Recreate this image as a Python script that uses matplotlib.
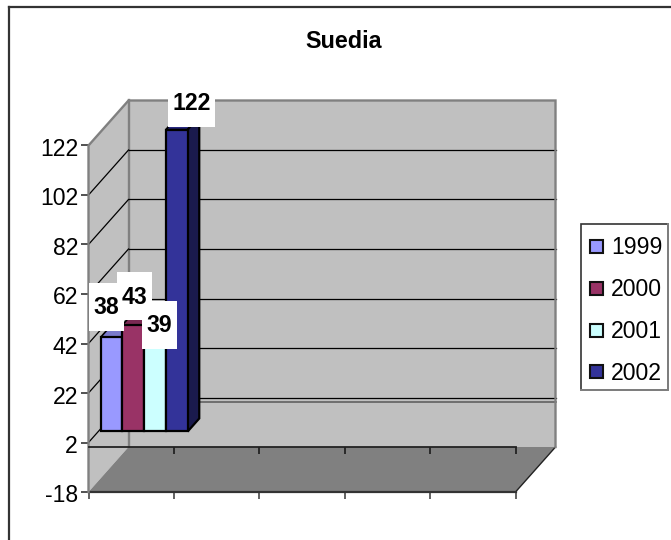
import matplotlib
matplotlib.use("Agg")
import matplotlib.pyplot as plt
from matplotlib.patches import Polygon, Rectangle
from matplotlib.transforms import ScaledTranslation

plt.rcParams['font.family'] = ['Liberation Sans', 'DejaVu Sans']

title = "Suedia"
years = ["1999", "2000", "2001", "2002"]
values = [38, 43, 39, 122]
value_ticks = [-18, 2, 22, 42, 62, 82, 102, 122]
category_ticks = [0, 1, 2, 3, 4, 5]

face_colors = ["#9999FF", "#993366", "#CCFFFF", "#333399"]
top_colors = ["#7A7ACC", "#7A2952", "#A3CCCC", "#292980"]
side_colors = ["#4D4D80", "#4D1A33", "#668080", "#1A1A4D"]

W, H = 671, 540
fig = plt.figure(figsize=(W / 100, H / 100), dpi=100, facecolor="white")
LEFT, RIGHT, TOP, BOTTOM = 88.5, 515.5, 145.5, 492.0
ax = fig.add_axes([LEFT / W, 1 - BOTTOM / H, (RIGHT - LEFT) / W, (BOTTOM - TOP) / H])
ax.set_xlim(0, 5)
ax.set_ylim(-18, 122)
px_x = (RIGHT - LEFT) / 5
px_y = (BOTTOM - TOP) / 140
DEPTH_X = 40 / px_x
DEPTH_Y = 45 / px_y
FONT = 16.6


def deep(x, y, d=1.0):
    """Project a point of the front plane back to depth d (0 front, 1 back wall)."""
    return (x + d * DEPTH_X, y + d * DEPTH_Y)


GREY = "#808080"
WALL = "#C0C0C0"
# Walls and floor of the oblique box
ax.add_patch(Polygon([(0, -18), (0, 122), deep(0, 122), deep(0, -18)],
                     closed=True, fc=WALL, ec="none", clip_on=False, zorder=1))
ax.add_patch(Polygon([deep(0, -18), deep(0, 122), deep(5, 122), deep(5, -18)],
                     closed=True, fc=WALL, ec="none", clip_on=False, zorder=1))
ax.plot(*zip((0, -18), (0, 122), deep(0, 122), deep(5, 122), deep(5, -18)),
        color=GREY, lw=1.7, clip_on=False, zorder=4, solid_joinstyle="miter")
ax.plot(*zip(deep(0, 122), deep(0, -18)), color=GREY, lw=1.7, clip_on=False, zorder=2)

# Gridlines along the left wall and the back wall
for v in value_ticks[1:-1]:
    ax.plot(*zip((0, v), deep(0, v)), color="black", lw=0.9, clip_on=False, zorder=2)
    ax.plot(*zip(deep(0, v), deep(5, v)), color="black", lw=0.9, clip_on=False, zorder=2)
ax.plot(*zip(deep(0, 0), deep(5, 0)), color="#606060", lw=1.2, clip_on=False, zorder=2)

ax.add_patch(Polygon([(0, -18), deep(0, -18), deep(5, -18), (5, -18)],
                     closed=True, fc=GREY, ec="none", clip_on=False, zorder=2))
ax.plot(*zip((5, -18), deep(5, -18)), color="#222222", lw=1.0, clip_on=False, zorder=3)
ax.plot([0, 5], [-18, -18], color="#333333", lw=1.6, clip_on=False, zorder=3)

# Category axis at zero, with its own ticks
ax.plot([0, 5], [0, 0], color="#222222", lw=1.3, clip_on=False, zorder=5)
ax.vlines(category_ticks[1:], -2.6, 0, color="#222222", lw=1.3, clip_on=False, zorder=5)

# Clustered bars standing inside the depth of the box
D0, D1 = 0.355, 0.644
BAR_W = 21.8 / px_x
BAR_START = (100.5 - LEFT) / px_x - D0 * DEPTH_X
base = D0 * DEPTH_Y
for i, (val, fc, tc, sc) in enumerate(zip(values, face_colors, top_colors, side_colors)):
    x0 = BAR_START + i * BAR_W
    z = 6 + i
    lefts = x0 + D0 * DEPTH_X
    ax.bar(lefts, val, width=BAR_W, bottom=base, align="edge", color=fc,
           edgecolor="black", linewidth=1.6, clip_on=False, zorder=z + 0.5)
    top = [deep(x0, val, D0), deep(x0 + BAR_W, val, D0),
           deep(x0 + BAR_W, val, D1), deep(x0, val, D1)]
    ax.add_patch(Polygon(top, closed=True, fc=tc, ec="black", lw=1.2, clip_on=False, zorder=z))
    if i == len(values) - 1:
        side = [deep(x0 + BAR_W, 0, D0), deep(x0 + BAR_W, val, D0),
                deep(x0 + BAR_W, val, D1), deep(x0 + BAR_W, 0, D1)]
        ax.add_patch(Polygon(side, closed=True, fc=sc, ec="black", lw=1.6, clip_on=False, zorder=z))

# Axis decoration
for s in ax.spines.values():
    s.set_visible(False)
ax.patch.set_visible(False)
ax.set_yticks(value_ticks)
ax.set_yticklabels([str(v) for v in value_ticks], fontsize=FONT, color="black")
ax.set_xticks(category_ticks)
ax.set_xticklabels([])
ax.tick_params(axis="y", length=6, width=1.2, color="#333333", pad=1.5)
ax.tick_params(axis="x", length=5, width=1.3, color="#555555")
nudge = ScaledTranslation(0, -1.5 / 100, fig.dpi_scale_trans)
for lab in ax.get_yticklabels():
    lab.set_transform(lab.get_transform() + nudge)


# Value labels on white boxes, placed in pixels from the top-left corner
def px_rect(x0, y0, x1, y1, **kw):
    fig.add_artist(Rectangle((x0 / W, 1 - y1 / H), (x1 - x0) / W, (y1 - y0) / H,
                             transform=fig.transFigure, **kw))


label_boxes = [(89, 283, 124, 331), (117, 272, 152, 320), (142, 301, 177, 349), (168, 79, 215, 127)]
label_text_y = [307, 297, 325, 103]
for val, (x0, y0, x1, y1), ty in zip(values, label_boxes, label_text_y):
    px_rect(x0, y0, x1, y1, fc="white", ec="none", zorder=20)
    fig.text((x0 + x1) / 2 / W, 1 - ty / H, str(val), fontsize=FONT, fontweight="bold",
             ha="center", va="center", zorder=21)

fig.text(344 / W, 1 - 41 / H, title, fontsize=16.8, fontweight="bold", ha="center", va="center")

# Legend panel
px_rect(581, 224, 668, 390, fc="white", ec="#333333", lw=1.2, zorder=10)
fig.add_artist(plt.Line2D([668 / W, 668 / W], [1 - 224 / H, 1 - 390 / H], color=GREY, lw=1.4, zorder=11))
fig.add_artist(plt.Line2D([581 / W, 668 / W], [1 - 390 / H, 1 - 390 / H], color=GREY, lw=1.4, zorder=11))
for yr, fc, cy in zip(years, face_colors, [246, 288, 330, 371]):
    px_rect(589.5, cy - 6.5, 602.5, cy + 6.5, fc=fc, ec="#111111", lw=1.5, zorder=11)
    fig.text(611 / W, 1 - (cy + 2) / H, yr, fontsize=FONT, ha="left", va="center", zorder=12)

# Chart area frame: only the top and left edges are visible
fig.add_artist(plt.Line2D([8.5 / W, 8.5 / W], [0, 1 - 6.5 / H], color="#333333", lw=1.6))
fig.add_artist(plt.Line2D([8.5 / W, 1], [1 - 6.5 / H, 1 - 6.5 / H], color="#333333", lw=1.6))

fig.savefig("out.png", dpi=100, facecolor="white")
